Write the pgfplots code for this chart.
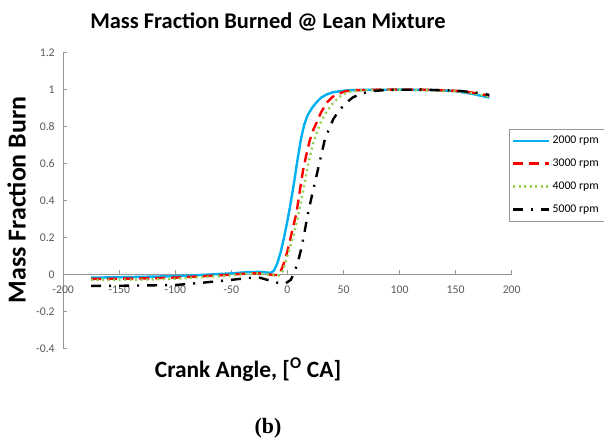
\documentclass[border=0pt]{standalone}
\usepackage{pgfplots}
\pgfplotsset{compat=1.18}
\usepackage{fontspec}
\setmainfont{Carlito}
\newfontfamily\timesb{Liberation Serif}
\definecolor{cblue}{RGB}{0,176,240}
\definecolor{cred}{RGB}{255,0,0}
\definecolor{cgreen}{RGB}{146,208,80}
\definecolor{axgray}{RGB}{150,150,150}
\definecolor{lblgray}{RGB}{89,89,89}
\begin{document}
\begin{tikzpicture}
\useasboundingbox (0bp,0bp) rectangle (604bp,442bp);
\begin{axis}[
  at={(63.2bp,93.7bp)}, anchor=south west, scale only axis,
  width=448.5bp, height=296bp,
  xmin=-200, xmax=200, ymin=-0.4, ymax=1.2,
  axis x line*=middle, axis y line*=left,
  axis line style={draw=axgray, line width=0.8bp},
  xtick={-200,-150,-100,-50,0,50,100,150,200},
  ytick={-0.4,-0.2,0,0.2,0.4,0.6,0.8,1,1.2},
  hide obscured x ticks=false, hide obscured y ticks=false,
  tick align=inside,
  major tick length=4bp,
  tick style={draw=axgray, line width=0.8bp},
  /pgf/number format/assume math mode=true,
  ticklabel style={font=\fontsize{11.8}{12}\selectfont, text=lblgray},
  x tick label style={yshift=-8bp},
  y tick label style={xshift=-5bp},
  clip=false,
  legend style={at={(axis description cs:0.994,0.741)}, anchor=north west,
    draw=axgray, fill=white, font=\fontsize{11.8}{12}\selectfont,
    row sep=9.8bp, inner xsep=3bp, inner ysep=5bp, legend cell align=left},
  legend image code/.code={\draw[#1] (0bp,0bp) -- (36bp,0bp);},
  every axis plot/.append style={line width=2.4bp},
]
\addplot[cblue, solid] coordinates {
(-175,-0.018) (-150,-0.016) (-125,-0.013) (-100,-0.01) (-75,-0.003) (-50,0.005) (-35,0.012) (-25,0.013) (-15,0.008) (-12,0.02) (-9,0.06) (-6,0.12) (-3,0.2) (0,0.29) (3,0.39) (6,0.5) (9,0.62) (12,0.73) (15,0.81) (18,0.86) (22,0.9) (26,0.93) (30,0.955) (35,0.972) (40,0.983) (47,0.99) (55,0.995) (70,0.997) (100,0.998) (130,0.996) (150,0.99) (165,0.975) (180,0.955)};
\addlegendentry{2000 rpm}
\addplot[cred, dash pattern=on 10bp off 6bp] coordinates {
(-175,-0.025) (-150,-0.024) (-125,-0.022) (-100,-0.018) (-75,-0.01) (-50,-0.002) (-35,0.005) (-25,0.005) (-15,-0.002) (-8,-0.005) (-5,0.03) (-2,0.08) (1,0.15) (4,0.23) (8,0.33) (11,0.45) (14,0.565) (17,0.65) (20,0.726) (23,0.78) (26,0.82) (30,0.875) (35,0.928) (40,0.958) (45,0.975) (52,0.99) (60,0.995) (80,0.998) (120,0.998) (150,0.992) (165,0.982) (180,0.965)};
\addlegendentry{3000 rpm}
\addplot[cgreen, dash pattern=on 2bp off 3.5bp] coordinates {
(-175,-0.03) (-150,-0.03) (-125,-0.028) (-100,-0.024) (-75,-0.015) (-50,-0.006) (-35,0.003) (-25,0.005) (-15,-0.003) (-8,-0.008) (-4,0.02) (0,0.1) (5,0.2) (9,0.3) (14,0.45) (17,0.55) (20,0.636) (23,0.71) (26,0.765) (30,0.825) (35,0.88) (40,0.92) (46,0.958) (52,0.98) (58,0.99) (70,0.996) (100,0.998) (150,0.99) (165,0.978) (180,0.96)};
\addlegendentry{4000 rpm}
\addplot[black, dash pattern=on 10bp off 8bp on 2bp off 8bp] coordinates {
(-175,-0.063) (-150,-0.062) (-125,-0.06) (-100,-0.058) (-75,-0.045) (-50,-0.03) (-35,-0.02) (-25,-0.018) (-15,-0.035) (-8,-0.047) (-2,-0.05) (3,-0.03) (6,0.01) (9,0.06) (12,0.13) (15,0.22) (18,0.32) (22,0.43) (26,0.535) (30,0.64) (33,0.72) (37,0.785) (41,0.84) (46,0.885) (52,0.925) (58,0.955) (65,0.975) (75,0.99) (90,0.997) (120,0.998) (150,0.993) (165,0.985) (180,0.97)};
\addlegendentry{5000 rpm}
\end{axis}
\node[font=\bfseries\fontsize{22.5}{24}\selectfont] at (268bp,420bp) {Mass Fraction Burned @ Lean Mixture};
\node[font=\bfseries\fontsize{26}{28}\selectfont, rotate=90] at (16.7bp,242bp) {Mass Fraction Burn};
\node[font=\bfseries\fontsize{23.5}{25}\selectfont] at (248bp,72bp) {Crank Angle, [\textsuperscript{O} CA]};
\node[font=\timesb\bfseries\fontsize{22}{24}\selectfont] at (268bp,14bp) {(b)};
\end{tikzpicture}
\end{document}
